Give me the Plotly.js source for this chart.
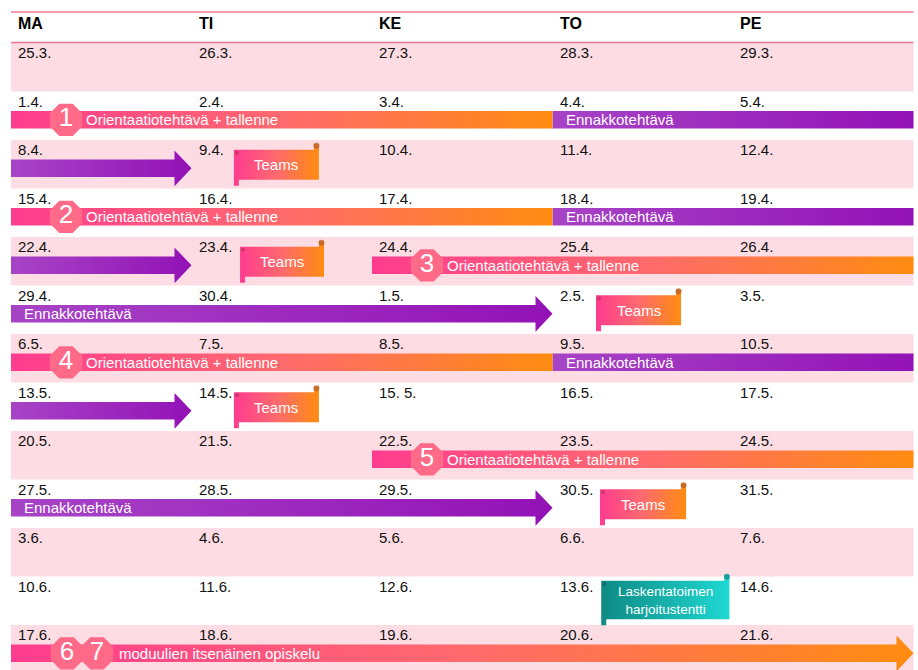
<!DOCTYPE html>
<html>
<head>
<meta charset="utf-8">
<script src="https://cdn.plot.ly/plotly-3.0.1.min.js"></script>
<style>html,body{margin:0;padding:0;background:#fff;}#chart{width:918px;height:670px;}</style>
</head>
<body>
<div id="chart"></div>
<script>
// ---------- data ----------
const dayNames = ['MA', 'TI', 'KE', 'TO', 'PE'];
const weekDates = [
  ['25.3.', '26.3.', '27.3.', '28.3.', '29.3.'],
  ['1.4.', '2.4.', '3.4.', '4.4.', '5.4.'],
  ['8.4.', '9.4.', '10.4.', '11.4.', '12.4.'],
  ['15.4.', '16.4.', '17.4.', '18.4.', '19.4.'],
  ['22.4.', '23.4.', '24.4.', '25.4.', '26.4.'],
  ['29.4.', '30.4.', '1.5.', '2.5.', '3.5.'],
  ['6.5.', '7.5.', '8.5.', '9.5.', '10.5.'],
  ['13.5.', '14.5.', '15. 5.', '16.5.', '17.5.'],
  ['20.5.', '21.5.', '22.5.', '23.5.', '24.5.'],
  ['27.5.', '28.5.', '29.5.', '30.5.', '31.5.'],
  ['3.6.', '4.6.', '5.6.', '6.6.', '7.6.'],
  ['10.6.', '11.6.', '12.6.', '13.6.', '14.6.'],
  ['17.6.', '18.6.', '19.6.', '20.6.', '21.6.']
];
// orientation tasks (week row, start day, end day, number)
const orientRow = [1, 3, 4, 6, 8];
const orientStart = [0, 0, 2, 0, 2];
const orientEnd = [3, 3, 5, 3, 5];
const orientNum = ['1', '2', '3', '4', '5'];
const orientLabel = 'Orientaatiotehtävä + tallenne';
// pre-assignment periods
const preRow = [1, 2, 3, 4, 5, 6, 7, 9];
const preStart = [3, 0, 3, 0, 0, 3, 0, 0];
const preEnd = [5, 1, 5, 1, 3, 5, 1, 3];
const preArrow = [false, true, false, true, true, false, true, true];
const preLabel = ['Ennakkotehtävä', '', 'Ennakkotehtävä', '', 'Ennakkotehtävä', 'Ennakkotehtävä', '', 'Ennakkotehtävä'];
// Teams sessions (week row, start / end position in days)
const teamsRow = [2, 4, 5, 7, 9];
const teamsStart = [1.235, 1.269, 3.241, 1.235, 3.263];
const teamsEnd = [1.706, 1.734, 3.712, 1.706, 3.74];
const teamsLabel = 'Teams';
// practice exam
const examRow = 11, examStart = 3.27, examEnd = 3.98;
const examLabel = 'Laskentatoimen<br>harjoitustentti';
// final independent study
const finalRow = 12, finalStart = 0, finalEnd = 5;
const finalNums = ['6', '7'];
const finalLabel = 'moduulien itsenäinen opiskelu';

// ---------- geometry helpers (axis units: x = day, y = week row) ----------
const PX = 180.5;   // px per day
const PY = 48.5;    // px per week row
const FONT = 'Liberation Sans, Arial, sans-serif';
const ORANGE = [[0, '#ff3c8f'], [0.5, '#ff6a6e'], [1, '#ff8c10']];
const PURPLE = [[0, '#a744c6'], [1, '#9312b6']];
const TEAL = [[0, '#0e8a84'], [1, '#1fd8d2']];
const traces = [];
const annotations = [];
const shapes = [];

function poly(xs, ys, scale) {
  traces.push({
    type: 'scatter', mode: 'lines', x: xs, y: ys, fill: 'toself',
    fillgradient: {type: 'horizontal', colorscale: scale},
    line: {width: 0, color: 'rgba(0,0,0,0)'}, hoverinfo: 'skip'
  });
}
function bar(x0, x1, r, scale, arrow) {
  const b0 = r + 0.40, b1 = r + 0.765, mid = r + 0.585;
  if (arrow) {
    const hl = 17 / PX;
    poly([x0, x1 - hl, x1 - hl, x1, x1 - hl, x1 - hl, x0, x0],
         [b0, b0, r + 0.215, mid, r + 0.955, b1, b1, b0], scale);
  } else {
    poly([x0, x1, x1, x0, x0], [b0, b0, b1, b1, b0], scale);
  }
}
function scroll(x0, x1, t0, t1, r, scale, dotL, dotR) {
  const tw = 5 / PX, th = 6 / PY;
  poly([x0, x1 - tw, x1 - tw, x1, x1, x0 + tw, x0 + tw, x0, x0],
       [r + t0, r + t0, r + t0 - th, r + t0 - th, r + t1, r + t1, r + t1 + th, r + t1 + th, r + t0], scale);
  traces.push({type: 'scatter', mode: 'markers', x: [x0 + 3 / PX, x1 - 2.5 / PX], y: [r + t0 + 3 / PY, r + t0 - th + 2 / PY],
    marker: {size: [4, 6], color: [dotL, dotR], line: {width: 0}}, hoverinfo: 'skip'});
}
function label(x, y, text, size) {
  annotations.push({x: x, y: y, xref: 'x', yref: 'y', text: text, showarrow: false,
    xanchor: 'left', yanchor: 'middle', font: {family: FONT, size: size || 15, color: '#ffffff'}});
}
function badges(xs, y, nums) {
  traces.push({type: 'scatter', mode: 'markers+text', x: xs, y: xs.map(() => y), text: nums,
    textposition: 'middle center',
    textfont: {family: FONT, size: 26, color: '#ffffff'},
    marker: {symbol: 'octagon', size: 35, color: '#ff6a88', line: {width: 0}}, hoverinfo: 'skip'});
}

// background rows + dates
for (let r = 0; r < weekDates.length; r++) {
  if (r % 2 === 0) {
    shapes.push({type: 'rect', xref: 'x', yref: 'y', x0: 0, x1: 5, y0: r, y1: r + 1,
      fillcolor: '#fddce3', line: {width: 0}, layer: 'below'});
  }
  weekDates[r].forEach((d, c) => {
    annotations.push({x: c + 5 / PX, y: r + 0.205, xref: 'x', yref: 'y', text: d, showarrow: false,
      xanchor: 'left', yanchor: 'middle', font: {family: FONT, size: 15, color: '#111111'}});
  });
}
// header
shapes.push({type: 'line', xref: 'x', yref: 'y', x0: 0, x1: 5, y0: -31 / PY, y1: -31 / PY, line: {color: '#f07a96', width: 1.5}});
shapes.push({type: 'line', xref: 'x', yref: 'y', x0: 0, x1: 5, y0: -0.01, y1: -0.01, line: {color: '#f07a96', width: 1.5}});
dayNames.forEach((d, c) => {
  annotations.push({x: c + 5 / PX, y: -0.405, xref: 'x', yref: 'y', text: '<b>' + d + '</b>', showarrow: false,
    xanchor: 'left', yanchor: 'middle', font: {family: FONT, size: 16, color: '#000000'}});
});

// pre-assignment bars / arrows
preRow.forEach((r, i) => {
  bar(preStart[i], preEnd[i], r, PURPLE, preArrow[i]);
  if (preLabel[i]) label(preStart[i] + 11 / PX, r + 0.585, preLabel[i]);
});
// orientation bars
orientRow.forEach((r, i) => {
  bar(orientStart[i], orientEnd[i], r, ORANGE, false);
});
// final arrow
bar(finalStart, finalEnd, finalRow, ORANGE, true);
// teams
teamsRow.forEach((r, i) => {
  scroll(teamsStart[i], teamsEnd[i], 0.2, 0.82, r, ORANGE, '#b8305c', '#b0602c');
  annotations.push({x: (teamsStart[i] + teamsEnd[i]) / 2, y: r + 0.51, xref: 'x', yref: 'y', text: teamsLabel,
    showarrow: false, xanchor: 'center', yanchor: 'middle', font: {family: FONT, size: 15, color: '#ffffff'}});
});
// exam
scroll(examStart, examEnd, 0.09, 0.88, examRow, TEAL, '#0a5e5a', '#0f8a84');
annotations.push({x: (examStart + examEnd) / 2, y: examRow + 0.485, xref: 'x', yref: 'y', text: examLabel,
  showarrow: false, xanchor: 'center', yanchor: 'middle', font: {family: FONT, size: 13.5, color: '#ffffff'}});

// badges + labels
orientRow.forEach((r, i) => {
  badges([orientStart[i] + 55 / PX], r + 0.585, [orientNum[i]]);
  label(orientStart[i] + 73 / PX, r + 0.585, orientLabel);
});
badges(finalNums.map((n, k) => finalStart + (56 + 30 * k) / PX), finalRow + 0.585, finalNums);
label(finalStart + 106 / PX, finalRow + 0.585, finalLabel);

const layout = {
  width: 918, height: 670,
  margin: {l: 0, r: 0, t: 0, b: 0},
  paper_bgcolor: '#ffffff', plot_bgcolor: '#ffffff',
  showlegend: false, hovermode: false,
  xaxis: {range: [-11 / PX, 907 / PX], visible: false, fixedrange: true},
  yaxis: {range: [627 / PY, -43 / PY], visible: false, fixedrange: true},
  shapes: shapes, annotations: annotations
};
Plotly.newPlot('chart', traces, layout, {staticPlot: true, displayModeBar: false});
</script>
</body>
</html>
